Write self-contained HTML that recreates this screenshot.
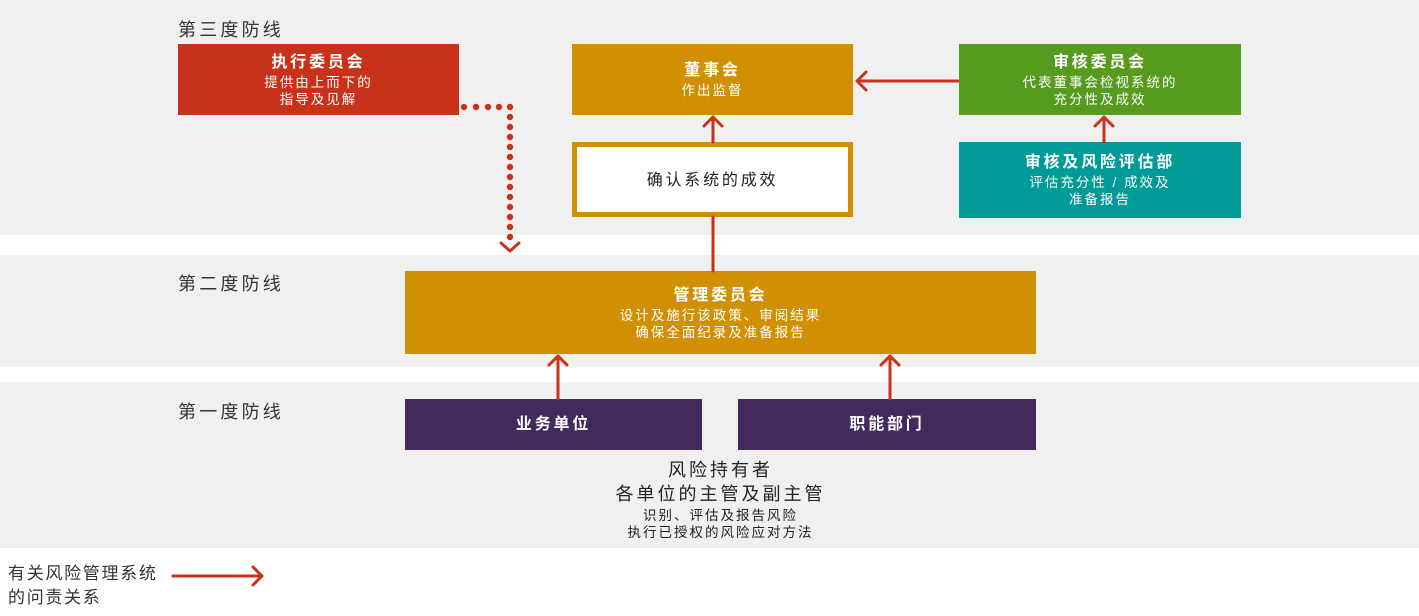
<!DOCTYPE html>
<html><head><meta charset="utf-8"><style>
html,body{margin:0;padding:0;}
body{width:1419px;height:616px;position:relative;background:#fff;overflow:hidden;font-family:"Liberation Sans","Noto Sans CJK SC",sans-serif;}
.band{position:absolute;left:0;width:1419px;background:#f0f0f0;}
.box{position:absolute;color:#fff;text-align:center;box-sizing:border-box;display:flex;flex-direction:column;justify-content:center;}
.t{font-size:16px;font-weight:bold;letter-spacing:2.8px;line-height:22px;}
.s{font-size:13.5px;letter-spacing:2px;line-height:17px;}
.lab{position:absolute;font-size:18px;color:#333;letter-spacing:3.2px;}
</style></head><body>
<div class="band" style="top:0;height:235px"></div>
<div class="band" style="top:255px;height:112px"></div>
<div class="band" style="top:382px;height:166px"></div>

<div class="lab" style="left:178px;top:16px">第三度防线</div>
<div class="lab" style="left:178px;top:270px">第二度防线</div>
<div class="lab" style="left:178px;top:398px">第一度防线</div>

<div class="box" style="left:178px;top:44px;width:281px;height:71px;background:#c8321a"><div class="t">执行委员会</div><div class="s">提供由上而下的<br>指导及见解</div></div>
<div class="box" style="left:572px;top:44px;width:281px;height:71px;background:#d18f04"><div class="t">董事会</div><div class="s">作出监督</div></div>
<div class="box" style="left:959px;top:44px;width:282px;height:71px;background:#569a1e"><div class="t">审核委员会</div><div class="s">代表董事会检视系统的<br>充分性及成效</div></div>
<div class="box" style="left:572px;top:142px;width:281px;height:75px;background:#fff;border:5px solid #d18f04;color:#222"><div style="font-size:16px;letter-spacing:2.8px;margin-top:-4px">确认系统的成效</div></div>
<div class="box" style="left:959px;top:142px;width:282px;height:76px;background:#009b96"><div class="t">审核及风险评估部</div><div class="s">评估充分性 / 成效及<br>准备报告</div></div>
<div class="box" style="left:405px;top:271px;width:631px;height:83px;background:#d18f04"><div class="t">管理委员会</div><div class="s">设计及施行该政策、审阅结果<br>确保全面纪录及准备报告</div></div>
<div class="box" style="left:405px;top:399px;width:297px;height:51px;background:#432a5c"><div class="t">业务单位</div></div>
<div class="box" style="left:738px;top:399px;width:298px;height:51px;background:#432a5c"><div class="t">职能部门</div></div>

<div style="position:absolute;left:405px;width:631px;top:458px;text-align:center;color:#222">
<div style="font-size:18px;letter-spacing:3px;line-height:24px">风险持有者<br>各单位的主管及副主管</div>
<div style="font-size:13.5px;letter-spacing:2px;line-height:17px;margin-top:1px">识别、评估及报告风险<br>执行已授权的风险应对方法</div>
</div>

<div style="position:absolute;left:8px;top:562px;font-size:17px;color:#333;line-height:24px;letter-spacing:1.7px">有关风险管理系统<br>的问责关系</div>

<svg width="1419" height="616" style="position:absolute;left:0;top:0" fill="none" stroke="#c8321a" stroke-width="3" stroke-linecap="round" stroke-linejoin="round">
<g fill="#c8321a" stroke="none">
<circle cx="464" cy="107" r="3.2"/><circle cx="476" cy="107" r="3.2"/><circle cx="488" cy="107" r="3.2"/><circle cx="499" cy="107" r="3.2"/>
<circle cx="510" cy="107" r="3.2"/><circle cx="510" cy="117" r="3.2"/><circle cx="510" cy="127" r="3.2"/><circle cx="510" cy="137" r="3.2"/><circle cx="510" cy="147" r="3.2"/><circle cx="510" cy="157" r="3.2"/><circle cx="510" cy="167" r="3.2"/><circle cx="510" cy="177" r="3.2"/><circle cx="510" cy="187" r="3.2"/><circle cx="510" cy="197" r="3.2"/><circle cx="510" cy="207" r="3.2"/><circle cx="510" cy="217" r="3.2"/><circle cx="510" cy="227" r="3.2"/><circle cx="510" cy="237" r="3.2"/>
</g>
<path d="M501 243 L510 251 L519 243"/>
<path d="M713 271 L713 217"/>
<path d="M713 142 L713 117 M704 126 L713 117 L722 126"/>
<path d="M958 81 L857 81 M866 72 L857 81 L866 90"/>
<path d="M1104 142 L1104 117 M1095 126 L1104 117 L1113 126"/>
<path d="M558 399 L558 356 M549 365 L558 356 L567 365"/>
<path d="M890 399 L890 356 M881 365 L890 356 L899 365"/>
<path d="M173 576 L261 576 M253 567 L262 576 L253 585"/>
</svg>
</body></html>
